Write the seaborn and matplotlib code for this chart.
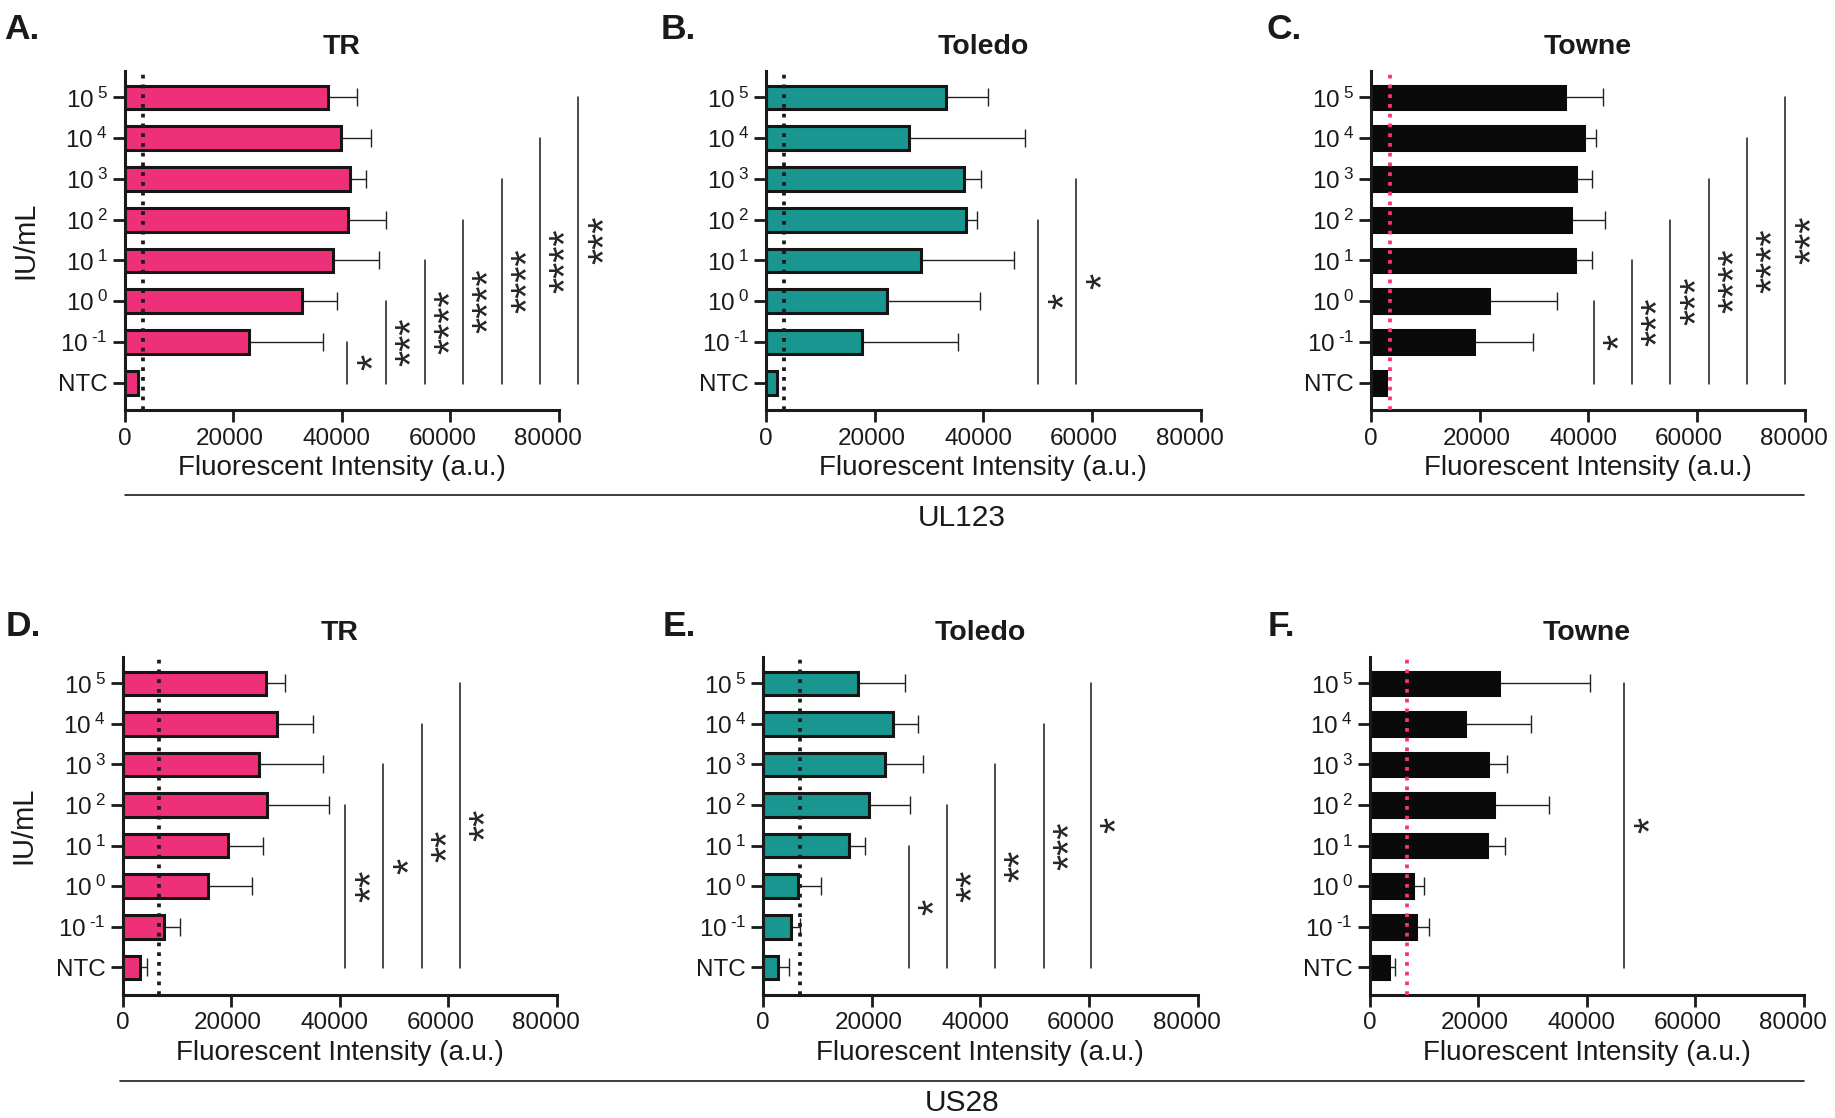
# Dose-response bar panels (UL123 / US28) for three strains, with significance bars.

import seaborn as sns
import pandas as pd
import matplotlib.pyplot as plt
from matplotlib.lines import Line2D
from matplotlib.ticker import FixedLocator, FormatStrFormatter
from matplotlib.transforms import ScaledTranslation
import numpy as np

sns.set_theme(style="ticks")
plt.rcParams['font.family'] = ['Liberation Sans', 'DejaVu Sans']
plt.rcParams['mathtext.fontset'] = 'custom'
plt.rcParams['mathtext.rm'] = 'Liberation Sans'
plt.rcParams['mathtext.it'] = 'Liberation Sans:italic'
plt.rcParams['mathtext.bf'] = 'Liberation Sans:bold'

# Category labels (top to bottom).
conc = [r"$10^{\;5}$", r"$10^{\;4}$", r"$10^{\;3}$", r"$10^{\;2}$",
        r"$10^{\;1}$", r"$10^{\;0}$", r"$10^{\;\text{-}1}$", "NTC"]

# UL123 means and SDs.
ul123_tr = [37400, 39850, 41600, 41100, 38450, 32650, 23000, 2550]
ul123_tr_sd = [5400, 5500, 2850, 7050, 8400, 6400, 13550, 0]
ul123_toledo = [33200, 26400, 36450, 36900, 28500, 22300, 17750, 2100]
ul123_toledo_sd = [7750, 21200, 3200, 2000, 17150, 17050, 17550, 0]
ul123_towne = [35850, 39250, 37800, 36800, 37600, 21700, 19050, 2850]
ul123_towne_sd = [6850, 2250, 2950, 6250, 3150, 12650, 10900, 0]

# US28 means and SDs.
us28_tr = [26400, 28400, 25150, 26650, 19450, 15700, 7600, 3200]
us28_tr_sd = [3550, 6600, 11750, 11400, 6500, 8200, 2900, 1250]
us28_toledo = [17550, 23850, 22400, 19500, 15800, 6450, 5150, 2700]
us28_toledo_sd = [8650, 4750, 7000, 7650, 2950, 4150, 1600, 2100]
us28_towne = [23900, 17600, 21800, 23000, 21550, 7950, 8650, 3500]
us28_towne_sd = [16750, 12050, 3500, 10000, 3350, 2000, 2250, 1200]

# Detection thresholds (dotted lines).
thresholds = [3350, 3330, 3500, 6650, 6840, 6850]

# Significance bars: x position, category they reach (from NTC), stars.
sig_x = [[41000, 48150, 55250, 62300, 69450, 76500, 83550],
         [50150, 57150],
         [41100, 48100, 55150, 62300, 69300, 76400],
         [41050, 48000, 55100, 62100],
         [26850, 33900, 42700, 51650, 60350],
         [46900]]
sig_to = [[6, 5, 4, 3, 2, 1, 0], [3, 2], [5, 4, 3, 2, 1, 0],
          [3, 2, 1, 0], [4, 3, 2, 1, 0], [0]]
sig_lab = [["*", "***", "****", "****", "****", "****", "***"],
           ["*", "*"],
           ["*", "***", "***", "****", "****", "***"],
           ["**", "*", "**", "**"],
           ["*", "**", "**", "***", "*"],
           ["*"]]

titles = ["TR", "Toledo", "Towne", "TR", "Toledo", "Towne"]
letters = ["A.", "B.", "C.", "D.", "E.", "F."]
xticks = [0, 20000, 40000, 60000, 80000]

pink = "#EE3079"
teal = "#18968F"
black = "#0A0A0A"
hot_pink = "#FF2D7F"

W, H = 1835, 1118
fig = plt.figure(figsize=(W / 100, H / 100), dpi=100)

# Axes boxes in pixels: left, top, right, bottom.
boxes = [(124.5, 71, 559, 410), (766, 71, 1200.5, 410), (1371, 71, 1805, 410),
         (122.5, 657, 557, 994.5), (763, 657, 1197.5, 994.5), (1369.5, 657, 1804, 994.5)]
letter_pos = [(4, 13), (661, 13), (1266, 13), (6, 610), (663, 610), (1268, 610)]

# Small leftward nudge of the x tick labels, as in the original figure (pixels).
xlabel_shift = [0, -3, -5, -8, -11]


def make_panel(i, means, sds, color, thr_color):
    l, t, r, b = boxes[i]
    ax = fig.add_axes([l / W, 1 - b / H, (r - l) / W, (b - t) / H])
    df = pd.DataFrame({"conc": conc, "value": means})
    edge = black if color == black else "#151515"
    sns.barplot(data=df, x="value", y="conc", orient="h", color=color, saturation=1,
                edgecolor=edge, linewidth=2.2, width=0.58, errorbar=None, ax=ax, zorder=2)
    ax.errorbar(means, np.arange(len(conc)), xerr=[np.zeros(len(conc)), sds], fmt="none",
                ecolor="#222222", elinewidth=1.0, capsize=6.4, capthick=1.0, zorder=1)
    ax.axvline(thresholds[i], color=thr_color, ls=(0, (1, 1.6)), lw=2.7, zorder=3)

    for x, to, lab in zip(sig_x[i], sig_to[i], sig_lab[i]):
        ax.plot([x, x], [7.02, to], color="k", lw=1.1, clip_on=False)
        ax.text(x + 5100, (7 + to) / 2, lab, rotation=90, ha="center", va="center",
                fontsize=30, clip_on=False, rotation_mode="anchor")

    ax.set_xlim(0, 80000)
    ax.set_ylim(7.67, -0.65)
    ax.xaxis.set_major_locator(FixedLocator(xticks))
    ax.xaxis.set_major_formatter(FormatStrFormatter("%d"))
    ax.tick_params(axis="both", length=8.6, width=2.0, labelsize=17.5, color="k", labelcolor="k")
    ax.tick_params(axis="y", pad=3.6)
    ax.tick_params(axis="x", pad=4)
    for s in ["left", "bottom"]:
        ax.spines[s].set_linewidth(2.2)
        ax.spines[s].set_color("k")
    sns.despine(ax=ax)
    for lab, dx in zip(ax.get_xticklabels(), xlabel_shift):
        lab.set_transform(lab.get_transform() + ScaledTranslation(dx / 100, 0, fig.dpi_scale_trans))
    ax.set_xlabel("Fluorescent Intensity (a.u.)", fontsize=20, labelpad=4, color="k")
    if i in (0, 3):
        ax.set_ylabel("IU/mL", fontsize=21, color="k")
        ax.yaxis.set_label_coords(-0.197, 0.5)
    else:
        ax.set_ylabel("")
    ax.set_title(titles[i], fontsize=20.5, fontweight="bold", pad=12.5, color="k")
    lx, ly = letter_pos[i]
    fig.text(lx / W, 1 - ly / H, letters[i], fontsize=25.5, fontweight="bold",
             ha="left", va="top", color="k")
    return ax


make_panel(0, ul123_tr, ul123_tr_sd, pink, "k")
make_panel(1, ul123_toledo, ul123_toledo_sd, teal, "k")
make_panel(2, ul123_towne, ul123_towne_sd, black, hot_pink)
make_panel(3, us28_tr, us28_tr_sd, pink, "k")
make_panel(4, us28_toledo, us28_toledo_sd, teal, "k")
make_panel(5, us28_towne, us28_towne_sd, black, hot_pink)

# Gene group brackets.
for y, x0, name, ty in [(495, 124.6, "UL123", 518), (1081, 119.8, "US28", 1103)]:
    fig.add_artist(Line2D([x0 / W, 1803.6 / W], [1 - y / H, 1 - y / H], color="k", lw=1.2))
    fig.text(962 / W, 1 - ty / H, name, ha="center", va="center", fontsize=21.5, color="k")

plt.savefig("out.png", dpi=100)
